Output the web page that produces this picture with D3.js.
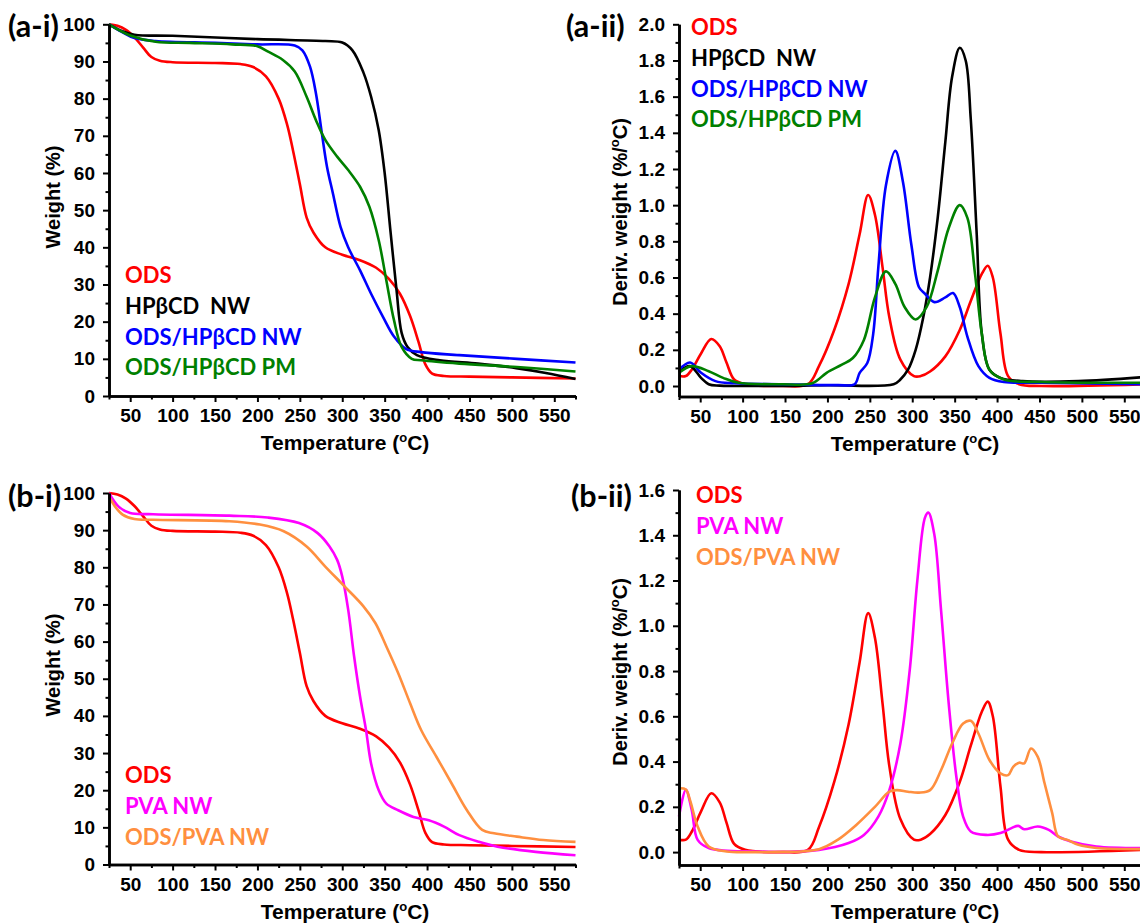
<!DOCTYPE html>
<html>
<head>
<meta charset="utf-8">
<script src="https://cdn.jsdelivr.net/npm/d3@7"></script>
<style>
  html, body { margin: 0; padding: 0; background: #fff; }
  svg { display: block; }
</style>
</head>
<body>
<svg id="chart" width="1140" height="924"></svg>
<script>
// ---------------- DATA ----------------
const xTickValues = [50, 100, 150, 200, 250, 300, 350, 400, 450, 500, 550];
const xMinorValues = [25, 75, 125, 175, 225, 275, 325, 375, 425, 475, 525, 575];
const tgaTickValues = [0, 10, 20, 30, 40, 50, 60, 70, 80, 90, 100];
const tgaMinorValues = [5, 15, 25, 35, 45, 55, 65, 75, 85, 95];
const dtgATickValues = [0, 0.2, 0.4, 0.6, 0.8, 1.0, 1.2, 1.4, 1.6, 1.8, 2.0];
const dtgAMinorValues = [0.1, 0.3, 0.5, 0.7, 0.9, 1.1, 1.3, 1.5, 1.7, 1.9];
const dtgBTickValues = [0, 0.2, 0.4, 0.6, 0.8, 1.0, 1.2, 1.4, 1.6];
const dtgBMinorValues = [0.1, 0.3, 0.5, 0.7, 0.9, 1.1, 1.3, 1.5];

// TGA: ODS
const odsTgaT = [25, 35, 45, 55, 65, 75, 85, 100, 150, 180, 195, 210, 225, 235, 242, 250, 258, 266, 280, 300, 320, 340, 355, 368, 380, 390, 398, 406, 420, 450, 500, 575];
const odsTgaW = [100, 99.6, 98.5, 96.5, 93.8, 91.2, 90.2, 89.8, 89.6, 89.3, 88.5, 86, 80, 73, 66, 57, 48, 44, 40, 38, 36.6, 34.5, 31.5, 27.5, 21.5, 14.5, 8.5, 6, 5.4, 5.2, 5, 4.7];
// TGA: HPβCD NW
const cdTgaT = [25, 40, 55, 100, 200, 280, 300, 312, 325, 334, 343, 350, 357, 364, 370, 377, 388, 415, 460, 505, 540, 575];
const cdTgaW = [100, 98.2, 97.2, 96.9, 96, 95.5, 95.1, 93, 87, 80.5, 71.5, 60, 44, 28.5, 17, 13.2, 11, 9.6, 8.7, 7.5, 6.2, 4.6];
// TGA: ODS/HPβCD NW
const odsCdNwTgaT = [25, 40, 55, 80, 150, 200, 244, 253, 262, 269, 276, 282, 289, 298, 307, 321, 334, 348, 361, 375, 393, 438, 506, 575];
const odsCdNwTgaW = [100, 98, 96.3, 95.5, 95, 94.6, 94.3, 93, 88.6, 81.4, 70.6, 61.7, 54.5, 45.5, 40, 33.8, 27.5, 21.3, 16, 12.7, 11.8, 11, 10, 9];
// TGA: ODS/HPβCD PM
const odsCdPmTgaT = [25, 50, 80, 120, 170, 200, 212, 230, 244, 258, 269, 280, 294, 307, 321, 332, 343, 352, 361, 370, 382, 393, 438, 506, 575];
const odsCdPmTgaW = [100, 97, 95.3, 95, 94.6, 94.1, 92.7, 90.4, 87.3, 80.5, 74.2, 68.9, 64.4, 60.8, 56.3, 50.9, 41.9, 31.1, 20.4, 13.2, 10, 9.6, 8.7, 7.8, 6.6];
// TGA: PVA NW
const pvaTgaT = [25, 36, 50, 77, 167, 212, 249, 271, 285, 294, 300, 307, 314, 321, 328, 334, 343, 352, 366, 384, 402, 420, 438, 461, 483, 528, 575];
const pvaTgaW = [100, 96.4, 94.6, 94.3, 93.9, 93.4, 91.9, 89.2, 85.6, 82, 77.5, 68.6, 56, 45.2, 36.2, 27.2, 20, 16.4, 14.6, 12.8, 11.9, 10.2, 7.9, 6.1, 4.8, 3.4, 2.5];
// TGA: ODS/PVA NW
const odsPvaTgaT = [25, 32, 41, 55, 77, 167, 203, 231, 258, 280, 303, 325, 339, 352, 366, 380, 393, 411, 429, 447, 465, 479, 506, 537, 575];
const odsPvaTgaW = [99, 96.4, 94.2, 93, 92.8, 92.4, 91.5, 89.7, 85.6, 80.2, 74.8, 69.5, 65, 58.7, 51.5, 43.4, 36.2, 29, 21.8, 14.6, 9.3, 8.4, 7.5, 6.6, 6.1];

// DTG: ODS
const odsDtgT = [25, 33, 40, 51, 63, 73, 81, 90, 103, 147, 177, 190, 208, 225, 238, 248, 256, 265, 273, 286, 302, 310, 321, 339, 356, 369, 382, 389, 395, 404, 413, 426, 452, 575];
const odsDtgD = [0.055, 0.055, 0.09, 0.18, 0.26, 0.22, 0.13, 0.036, 0.01, 0.0, 0.01, 0.11, 0.31, 0.565, 0.84, 1.056, 0.947, 0.656, 0.38, 0.146, 0.055, 0.055, 0.08, 0.164, 0.31, 0.47, 0.62, 0.665, 0.6, 0.29, 0.055, 0.01, 0.0, 0.01];
// DTG: HPβCD NW
const cdDtgT = [25, 38, 51, 60, 73, 200, 278, 286, 295, 304, 313, 321, 330, 339, 347, 356, 363, 369, 376, 382, 391, 404, 430, 496, 575];
const cdDtgD = [0.08, 0.11, 0.045, 0.01, 0.002, 0.004, 0.01, 0.036, 0.09, 0.2, 0.38, 0.6, 0.93, 1.35, 1.71, 1.87, 1.8, 1.475, 0.84, 0.29, 0.09, 0.045, 0.027, 0.027, 0.05];
// DTG: ODS/HPβCD NW
const odsCdNwDtgT = [25, 38, 51, 68, 90, 147, 212, 232, 238, 247, 254, 260, 269, 280, 289, 299, 308, 315, 326, 339, 348, 356, 365, 378, 391, 408, 452, 575];
const odsCdNwDtgD = [0.09, 0.13, 0.073, 0.027, 0.015, 0.01, 0.005, 0.01, 0.073, 0.127, 0.29, 0.656, 1.11, 1.30, 1.13, 0.78, 0.546, 0.51, 0.464, 0.49, 0.514, 0.437, 0.273, 0.11, 0.045, 0.022, 0.018, 0.01];
// DTG: ODS/HPβCD PM
const odsCdPmDtgT = [25, 40, 60, 77, 95, 147, 182, 199, 217, 230, 243, 256, 269, 280, 291, 304, 317, 330, 343, 356, 365, 374, 382, 391, 408, 452, 575];
const odsCdPmDtgD = [0.073, 0.11, 0.082, 0.045, 0.018, 0.01, 0.015, 0.073, 0.118, 0.155, 0.255, 0.49, 0.634, 0.565, 0.437, 0.368, 0.437, 0.637, 0.874, 1.0, 0.93, 0.62, 0.29, 0.09, 0.036, 0.022, 0.018];
// DTG: PVA NW
const pvaDtgT = [25, 33, 40, 47, 60, 103, 190, 225, 243, 260, 273, 286, 297, 306, 315, 319, 326, 334, 343, 352, 360, 369, 387, 404, 417, 425, 432, 448, 461, 472, 487, 517, 575];
const pvaDtgD = [0.157, 0.275, 0.186, 0.054, 0.018, 0.003, 0.01, 0.04, 0.076, 0.157, 0.274, 0.48, 0.803, 1.2, 1.478, 1.5, 1.404, 1.067, 0.656, 0.333, 0.157, 0.091, 0.076, 0.084, 0.106, 0.116, 0.101, 0.113, 0.098, 0.069, 0.047, 0.025, 0.018];
// DTG: ODS/PVA NW
const odsPvaDtgT = [25, 33, 38, 47, 60, 81, 112, 138, 190, 212, 234, 256, 273, 282, 295, 308, 321, 334, 347, 360, 369, 378, 391, 404, 413, 419, 426, 432, 440, 448, 456, 465, 472, 483, 496, 517, 575];
const odsPvaDtgD = [0.282, 0.277, 0.23, 0.113, 0.025, 0.003, 0.0, 0.0, 0.013, 0.054, 0.12, 0.2, 0.267, 0.274, 0.267, 0.263, 0.274, 0.363, 0.48, 0.568, 0.58, 0.524, 0.407, 0.348, 0.34, 0.377, 0.395, 0.392, 0.458, 0.421, 0.304, 0.172, 0.069, 0.054, 0.032, 0.018, 0.013];

const legendA = ["ODS", "HPβCD  NW", "ODS/HPβCD NW", "ODS/HPβCD PM"];
const legendB = ["ODS", "PVA NW", "ODS/PVA NW"];

// ---------------- STYLES / LAYOUT ----------------
const RED = "#ff0000", BLACK = "#000000", BLUE = "#0000ff", GREEN = "#008000", MAGENTA = "#ff00ff", ORANGE = "#ff8f3f";
const tickFont = '"Liberation Sans", Arial, sans-serif';
const labelFont = 'Lato, "Open Sans", sans-serif';

const svg = d3.select("#chart");

function zip(t, v) { return t.map((d, i) => [d, v[i]]); }

function drawPanel(p) {
  const x = d3.scaleLinear().domain([25, 575]).range([p.x0, p.x0 + 466.5]);
  const y = d3.scaleLinear().domain(p.ydom).range([p.yAxis, p.yTop]);
  const g = svg.append("g");

  // curves
  const line = d3.line().x(d => x(d[0])).y(d => y(d[1])).curve(d3.curveCatmullRom.alpha(0.5));
  p.series.forEach(s => {
    g.append("path").datum(zip(s.t, s.v))
      .attr("fill", "none").attr("stroke", s.color)
      .attr("stroke-width", 2.6).attr("stroke-linejoin", "round")
      .attr("d", line);
  });

  // x axis
  const xAxis = g.append("g").attr("transform", `translate(0,${p.yAxis})`)
    .call(d3.axisBottom(x).tickValues(xTickValues).tickSize(6).tickSizeOuter(0).tickPadding(7).tickFormat(d3.format("d")));
  const xMinor = g.append("g").attr("transform", `translate(0,${p.yAxis})`)
    .call(d3.axisBottom(x).tickValues(xMinorValues).tickSize(3.5).tickSizeOuter(0).tickFormat(""));
  // y axis
  const yAxis = g.append("g").attr("transform", `translate(${p.x0},0)`)
    .call(d3.axisLeft(y).tickValues(p.yTicks).tickSize(6).tickSizeOuter(0).tickPadding(8).tickFormat(p.yFmt));
  const yMinor = g.append("g").attr("transform", `translate(${p.x0},0)`)
    .call(d3.axisLeft(y).tickValues(p.yMinor).tickSize(3.5).tickSizeOuter(0).tickFormat(""));

  [xAxis, xMinor, yAxis, yMinor].forEach(a => {
    a.select(".domain").attr("stroke", "#000").attr("stroke-width", 2.6);
    a.selectAll(".tick line").attr("stroke", "#000").attr("stroke-width", 2);
  });
  xAxis.selectAll(".tick text").attr("font-size", 19).attr("fill", "#000")
    .attr("font-family", tickFont).attr("font-weight", "bold");
  yAxis.selectAll(".tick text").attr("font-size", 19).attr("fill", "#000")
    .attr("font-family", tickFont).attr("font-weight", "bold");

  // x title
  const xt = g.append("text").attr("x", p.x0 + 236).attr("y", p.yAxis + 54)
    .attr("text-anchor", "middle").attr("font-family", tickFont).attr("font-weight", "bold")
    .attr("font-size", 21).attr("fill", "#000");
  xt.append("tspan").text("Temperature (");
  xt.append("tspan").attr("font-size", 13).attr("dy", -8).text("o");
  xt.append("tspan").attr("dy", 8).text("C)");

  // y title
  const yt = g.append("text").attr("transform", `translate(${p.yTitleX},${p.yTitleY}) rotate(-90)`)
    .attr("text-anchor", "middle").attr("font-family", tickFont).attr("font-weight", "bold")
    .attr("font-size", 20).attr("fill", "#000");
  if (p.deriv) {
    yt.append("tspan").text("Deriv. weight (%/");
    yt.append("tspan").attr("font-size", 13).attr("dy", -8).text("o");
    yt.append("tspan").attr("dy", 8).text("C)");
  } else {
    yt.text("Weight (%)");
  }

  // panel label
  g.append("text").attr("x", p.labelX).attr("y", p.labelY)
    .attr("font-family", labelFont).attr("font-weight", "bold").attr("font-size", 30.5)
    .attr("fill", "#000").text(p.label);

  // legend
  p.legend.forEach((txt, i) => {
    g.append("text").attr("x", p.legX).attr("y", p.legY + i * 30.8)
      .attr("font-family", labelFont).attr("font-weight", "bold").attr("font-size", 22)
      .attr("fill", p.series[i].color).style("white-space", "pre").text(txt);
  });
}

const f1 = d3.format(".1f"), f0 = d3.format("d");

drawPanel({
  label: "(a-i)", labelX: 8, labelY: 37,
  x0: 109, yAxis: 396, yTop: 24.3, ydom: [0, 100],
  yTicks: tgaTickValues, yMinor: tgaMinorValues, yFmt: f0,
  yTitleX: 60, yTitleY: 197,
  legX: 125, legY: 283, legend: legendA,
  series: [
    { t: odsTgaT, v: odsTgaW, color: RED },
    { t: cdTgaT, v: cdTgaW, color: BLACK },
    { t: odsCdNwTgaT, v: odsCdNwTgaW, color: BLUE },
    { t: odsCdPmTgaT, v: odsCdPmTgaW, color: GREEN }
  ]
});

drawPanel({
  label: "(a-ii)", labelX: 566, labelY: 37, deriv: true,
  x0: 679, yAxis: 396.5, yTop: 24.3, ydom: [-0.058, 2.0],
  yTicks: dtgATickValues, yMinor: dtgAMinorValues, yFmt: f1,
  yTitleX: 627, yTitleY: 212,
  legX: 691, legY: 35, legend: legendA,
  series: [
    { t: odsDtgT, v: odsDtgD, color: RED },
    { t: cdDtgT, v: cdDtgD, color: BLACK },
    { t: odsCdNwDtgT, v: odsCdNwDtgD, color: BLUE },
    { t: odsCdPmDtgT, v: odsCdPmDtgD, color: GREEN }
  ]
});

drawPanel({
  label: "(b-i)", labelX: 8, labelY: 507,
  x0: 109, yAxis: 864.5, yTop: 493, ydom: [0, 100],
  yTicks: tgaTickValues, yMinor: tgaMinorValues, yFmt: f0,
  yTitleX: 60, yTitleY: 665,
  legX: 125, legY: 783, legend: legendB,
  series: [
    { t: odsTgaT, v: odsTgaW, color: RED },
    { t: pvaTgaT, v: pvaTgaW, color: MAGENTA },
    { t: odsPvaTgaT, v: odsPvaTgaW, color: ORANGE }
  ]
});

drawPanel({
  label: "(b-ii)", labelX: 571, labelY: 507, deriv: true,
  x0: 679, yAxis: 865, yTop: 490, ydom: [-0.057, 1.6],
  yTicks: dtgBTickValues, yMinor: dtgBMinorValues, yFmt: f1,
  yTitleX: 627, yTitleY: 672,
  legX: 696, legY: 503, legend: legendB,
  series: [
    { t: odsDtgT, v: odsDtgD, color: RED },
    { t: pvaDtgT, v: pvaDtgD, color: MAGENTA },
    { t: odsPvaDtgT, v: odsPvaDtgD, color: ORANGE }
  ]
});
</script>
</body>
</html>
